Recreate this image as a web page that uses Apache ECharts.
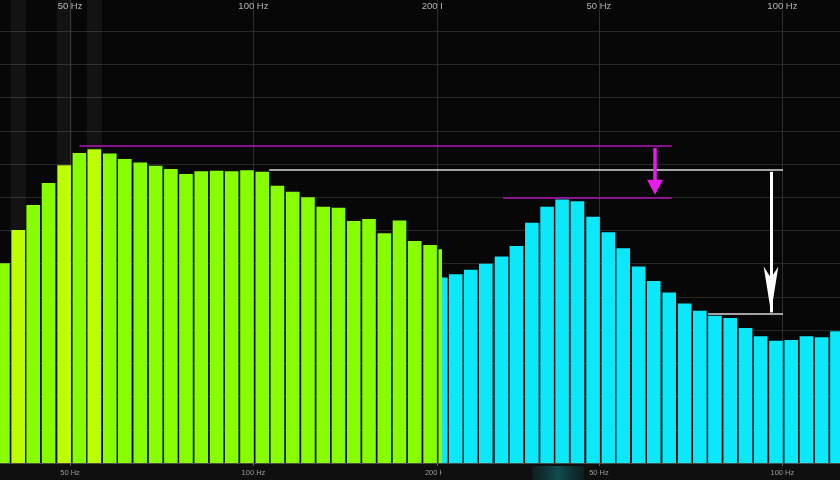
<!DOCTYPE html>
<html><head><meta charset="utf-8">
<script src="https://cdn.jsdelivr.net/npm/echarts@6/dist/echarts.min.js"></script>
<style>
html,body{margin:0;padding:0;background:#0f0f0f;width:840px;height:480px;overflow:hidden;}
#left{position:absolute;left:0;top:0;width:442px;height:480px;}
#right{position:absolute;left:442px;top:0;width:398px;height:480px;}
#overlay{position:absolute;left:0;top:0;width:840px;height:480px;pointer-events:none;}
</style></head><body>
<div id="left"></div><div id="right"></div><div id="overlay"></div>
<script>
// 1/12-octave analyser bands (Hz)
const bandsHz = [27.5, 29.1, 30.8, 32.6, 34.6, 36.6, 38.8, 41.1, 43.5, 46.1, 48.9, 51.8,
  54.8, 58.1, 61.5, 65.2, 69.1, 73.2, 77.5, 82.1, 87.0, 92.1, 97.6, 103.4, 109.5, 116.0,
  122.9, 130.2, 137.9, 146.1, 154.8, 164.0, 173.7, 184.0, 195.0, 206.5];
const greenHz = bandsHz.slice(6);      // left panel bands
const cyanHz = bandsHz.slice(0, 27);   // right panel bands
// levels in dB above the display floor
const greenDb = [36.1, 42.1, 46.6, 50.6, 53.8, 56.0, 56.7, 55.9, 54.9, 54.3, 53.7, 53.1, 52.2,
  52.7, 52.8, 52.7, 52.9, 52.6, 50.1, 49.0, 48.0, 46.3, 46.1, 43.7, 44.1, 41.5, 43.8, 40.1, 39.4, 38.6];
const cyanDb = [33.5, 34.1, 34.9, 36.0, 37.3, 39.2, 43.4, 46.3, 47.6, 47.3, 44.5, 41.7, 38.8, 35.5,
  32.9, 30.8, 28.8, 27.5, 26.6, 26.2, 24.4, 22.9, 22.1, 22.2, 22.9, 22.7, 23.8];
const greenPeakHz = [41.1, 48.9, 54.8];
const tickHz = [25, 50, 100, 200];
const leftRangeHz = [38.37, 203.97];
const rightRangeHz = [27.63, 124.32];
const overlayRangeHz = [38.37, 918.0];
const levelRangeDb = [0, 84];
const levelStepDb = 6;
// annotation reference lines: [fromHz, toHz] and level
const refLinesHz = [[51.8, 485.9], [256.9, 485.9], [106.1, 740.0], [557.4, 740.0]];
const refLinesDb = [57.3, 48.0, 53.05, 26.9];
const arrowsHz = [456.2, 707.3];
const arrowsDb = [[56.9, 49.8], [52.6, 27.2]];

const FONT = 'Liberation Sans, Arial, sans-serif';
const BAR_W = 13.6;
const COL_W = 15;

function rectRender(colorFn, width) {
  return function (params, api) {
    const f = api.value(0), v = api.value(1);
    const top = api.coord([f, v]);
    const base = api.coord([f, levelRangeDb[0]]);
    return {
      type: 'rect', silent: true,
      shape: {x: top[0] - width / 2, y: top[1], width: width, height: base[1] - top[1]},
      style: {fill: colorFn(api)}
    };
  };
}

function panelOption(rangeHz, freqs, levels, color, peakColor, peaks) {
  const base = {type: 'log', logBase: 2, min: rangeHz[0], max: rangeHz[1]};
  const gridDef = {left: 0, right: 0, top: -2, bottom: 17, show: true, backgroundColor: '#070707',
    borderWidth: 0, containLabel: false, outerBoundsMode: 'none'};
  return {
    animation: false,
    backgroundColor: '#0f0f0f',
    grid: gridDef,
    xAxis: [
      Object.assign({}, base, {
        position: 'bottom',
        axisLine: {show: true, lineStyle: {color: '#4c4c4c', width: 1}},
        axisTick: {show: true, length: 3, lineStyle: {color: '#5c5c5c'}, customValues: tickHz},
        axisLabel: {show: true, customValues: tickHz, formatter: '{value} Hz', color: '#9a9a9a',
          fontSize: 7.5, margin: 6, fontFamily: FONT},
        splitLine: {show: true, lineStyle: {color: '#2e2e2e', width: 1}},
        minorTick: {show: false}, minorSplitLine: {show: false}
      }),
      Object.assign({}, base, {
        position: 'top',
        axisLine: {show: false},
        axisTick: {show: false, customValues: tickHz},
        axisLabel: {show: true, inside: true, customValues: tickHz, formatter: '{value} Hz',
          color: '#b4b4b4', fontSize: 9.5, margin: 3, fontFamily: FONT},
        splitLine: {show: false}
      })
    ],
    yAxis: {
      type: 'value', min: levelRangeDb[0], max: levelRangeDb[1], interval: levelStepDb,
      axisLine: {show: false}, axisTick: {show: false}, axisLabel: {show: false},
      splitLine: {show: true, lineStyle: {color: '#272727', width: 1}}
    },
    series: [
      {
        type: 'custom', silent: true, clip: false,
        data: peaks.map(f => [f, levelRangeDb[1]]),
        renderItem: rectRender(() => 'rgba(255,255,255,0.05)', COL_W)
      },
      {
        type: 'custom', silent: true, clip: false,
        data: freqs.map((f, i) => [f, levels[i], peaks.indexOf(f) >= 0 ? 1 : 0]),
        renderItem: rectRender(api => (api.value(2) ? peakColor : color), BAR_W)
      }
    ]
  };
}

const left = echarts.init(document.getElementById('left'), null, {renderer: 'canvas'});
left.setOption(panelOption(leftRangeHz, greenHz, greenDb, '#88ff00', '#bdff00', greenPeakHz));

const right = echarts.init(document.getElementById('right'), null, {renderer: 'canvas'});
const rightOpt = panelOption(rightRangeHz, cyanHz, cyanDb, '#0ae8fa', '#0ae8fa', []);
rightOpt.graphic = [{
  type: 'rect', left: 90, bottom: 0, silent: true, z: 10,
  shape: {width: 52, height: 14},
  style: {fill: {type: 'linear', x: 0, y: 0, x2: 1, y2: 0, colorStops: [
    {offset: 0, color: 'rgba(14,70,74,0.25)'}, {offset: 0.5, color: 'rgba(16,80,84,0.95)'},
    {offset: 1, color: 'rgba(14,70,74,0.25)'}]}}
}];
right.setOption(rightOpt);

const magentaThin = {color: '#b414b4', width: 1.6, type: 'solid'};
const whiteThin = {color: '#d8d8d8', width: 1.5, type: 'solid'};
const refStyles = [magentaThin, magentaThin, whiteThin, whiteThin];
const mlData = refLinesHz.map((r, i) => [
  {coord: [r[0], refLinesDb[i]], symbol: 'none', lineStyle: refStyles[i]},
  {coord: [r[1], refLinesDb[i]], symbol: 'none'}
]);
mlData.push([
  {coord: [arrowsHz[0], arrowsDb[0][0]], symbol: 'none', lineStyle: {color: '#e81ce8', width: 3.5, type: 'solid'}},
  {coord: [arrowsHz[0], arrowsDb[0][1]], symbol: 'triangle', symbolSize: [16, 15], itemStyle: {color: '#e81ce8'}}
]);
mlData.push([
  {coord: [arrowsHz[1], arrowsDb[1][0]], symbol: 'none', lineStyle: {color: '#ffffff', width: 3, type: 'solid'}},
  {coord: [arrowsHz[1], arrowsDb[1][1]], symbol: 'arrow', symbolSize: [11, 46], itemStyle: {color: '#ffffff'}}
]);

const overlay = echarts.init(document.getElementById('overlay'), null, {renderer: 'canvas'});
overlay.setOption({
  animation: false,
  grid: {left: 0, right: 0, top: -2, bottom: 17, show: false, containLabel: false, outerBoundsMode: 'none'},
  xAxis: {type: 'log', logBase: 2, min: overlayRangeHz[0], max: overlayRangeHz[1], show: false},
  yAxis: {type: 'value', min: levelRangeDb[0], max: levelRangeDb[1], show: false},
  series: [{
    type: 'line', data: [], silent: true,
    markLine: {silent: true, animation: false, symbol: ['none', 'none'],
      label: {show: false}, emphasis: {disabled: true}, data: mlData}
  }]
});
</script>
</body></html>
